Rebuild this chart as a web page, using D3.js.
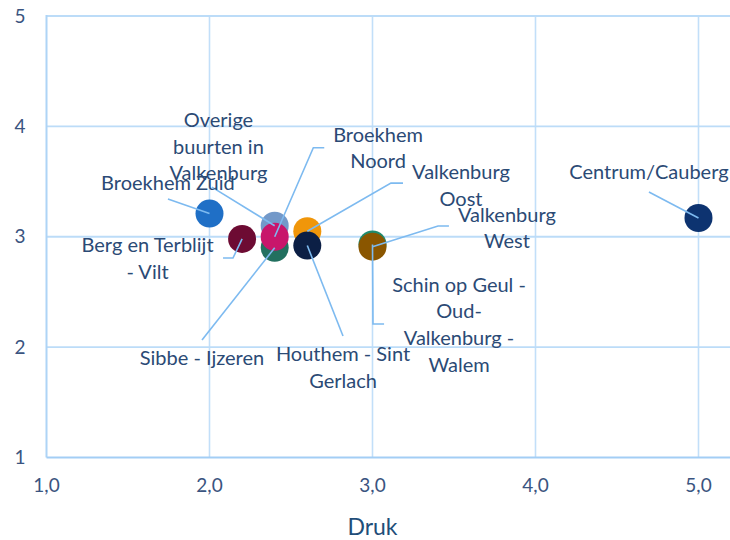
<!DOCTYPE html>
<html>
<head>
<meta charset="utf-8">
<script src="https://cdn.jsdelivr.net/npm/d3@7"></script>
<style>
  body { margin: 0; background: #fff; }
  svg text { font-family: Lato, "Open Sans", sans-serif; }
</style>
</head>
<body>
<script>
// neighbourhoods, x = Druk, y = second score
var names = ["Schin op Geul - Oud-Valkenburg - Walem", "Broekhem Zuid", "Berg en Terblijt - Vilt",
  "Overige buurten in Valkenburg", "Sibbe - Ijzeren", "Broekhem Noord", "Valkenburg Oost",
  "Houthem - Sint Gerlach", "Valkenburg West", "Centrum/Cauberg"];
var druk = [3.0, 2.0, 2.2, 2.4, 2.4, 2.4, 2.6, 2.6, 3.0, 5.0];
var score = [2.93, 3.21, 2.98, 3.1, 2.9, 3.0, 3.05, 2.92, 2.91, 3.17];
var colors = ["#1f8a6c", "#1f6fc6", "#6d0b33", "#7399c9", "#22705f", "#c8166b", "#f0960a",
  "#0c1f45", "#8a5600", "#0d3370"];

// label text lines per point
var labelLines = [
  ["Schin op Geul -", "Oud-", "Valkenburg -", "Walem"],
  ["Broekhem Zuid"],
  ["Berg en Terblijt", "- Vilt"],
  ["Overige", "buurten in", "Valkenburg"],
  ["Sibbe - Ijzeren"],
  ["Broekhem", "Noord"],
  ["Valkenburg", "Oost"],
  ["Houthem - Sint", "Gerlach"],
  ["Valkenburg", "West"],
  ["Centrum/Cauberg"]
];

var xTicks = [1, 2, 3, 4, 5];
var yTicks = [1, 2, 3, 4, 5];

// label placement in data units: text centre x, first baseline y, leader elbows
var labelPos = [
  {x: 3.531, y: 2.502, leader: [[3.071, 2.209], [3.003, 2.209]]},
  {x: 1.745, y: 3.423, leader: [[1.745, 3.341]]},
  {x: 1.620, y: 2.859, leader: [[2.083, 2.807], [2.144, 2.807]]},
  {x: 2.055, y: 3.994, leader: [[2.015, 3.450]]},
  {x: 1.954, y: 1.838, leader: [[1.954, 2.064]]},
  {x: 3.034, y: 3.861, leader: [[2.704, 3.806], [2.637, 3.806]]},
  {x: 3.543, y: 3.520, leader: [[3.187, 3.486], [3.113, 3.486]]},
  {x: 2.819, y: 1.874, leader: [[2.819, 2.101]]},
  {x: 3.825, y: 3.136, leader: [[3.469, 3.097], [3.402, 3.097]]},
  {x: 4.696, y: 3.523, leader: [[4.696, 3.405]]}
];

var width = 730, height = 540;

var svg = d3.select("body").append("svg")
  .attr("width", width)
  .attr("height", height);

var x = d3.scaleLinear().domain([1, 5.2]).range([46.5, 46.5 + 4.2 * 163]);
var y = d3.scaleLinear().domain([1, 5]).range([457.5, 16]);

//grid
svg.append("g").selectAll("line.v")
  .data(xTicks.slice(1))
  .enter().append("line")
  .attr("x1", function(d){ return x(d); })
  .attr("x2", function(d){ return x(d); })
  .attr("y1", y(5)).attr("y2", y(1))
  .attr("stroke", "#c2dff9").attr("stroke-width", 1.6);

svg.append("g").selectAll("line.h")
  .data(yTicks.slice(1))
  .enter().append("line")
  .attr("x1", x(1)).attr("x2", width)
  .attr("y1", function(d){ return y(d); })
  .attr("y2", function(d){ return y(d); })
  .attr("stroke", "#bcdcf8").attr("stroke-width", 1.8);

//axis lines
svg.append("line")
  .attr("x1", x(1)).attr("x2", x(1)).attr("y1", y(5) - 1).attr("y2", y(1))
  .attr("stroke", "#aed4f6").attr("stroke-width", 2);
svg.append("line")
  .attr("x1", x(1)).attr("x2", width).attr("y1", y(1)).attr("y2", y(1))
  .attr("stroke", "#a3cef5").attr("stroke-width", 2);

//tick labels
svg.append("g").selectAll("text")
  .data(yTicks).enter().append("text")
  .attr("x", 20).attr("y", function(d){ return y(d) + 6.5; })
  .attr("text-anchor", "middle")
  .attr("font-size", 19).attr("fill", "#3a5480")
  .text(function(d){ return d; });

svg.append("g").selectAll("text")
  .data(xTicks).enter().append("text")
  .attr("x", function(d){ return x(d); }).attr("y", 492)
  .attr("text-anchor", "middle")
  .attr("font-size", 19).attr("fill", "#3a5480")
  .text(function(d){ return d3.format(".1f")(d).replace(".", ","); });

svg.append("text")
  .attr("x", (x(1) + x(5)) / 2).attr("y", 535)
  .attr("text-anchor", "middle")
  .attr("font-size", 23).attr("fill", "#1f4e79")
  .text("Druk");

//points
svg.append("g").selectAll("circle")
  .data(names).enter().append("circle")
  .attr("cx", function(d, i){ return x(druk[i]); })
  .attr("cy", function(d, i){ return y(score[i]); })
  .attr("r", 14)
  .attr("fill", function(d, i){ return colors[i]; });

//leader lines
var line = d3.line();
svg.append("g").selectAll("path")
  .data(names).enter().append("path")
  .attr("d", function(d, i){
    var pts = labelPos[i].leader.map(function(p){ return [x(p[0]), y(p[1])]; });
    pts.push([x(druk[i]), y(score[i])]);
    return line(pts);
  })
  .attr("fill", "none")
  .attr("stroke", "#7dbaf0").attr("stroke-width", 1.6);

//labels
var labels = svg.append("g").selectAll("text")
  .data(names).enter().append("text")
  .attr("text-anchor", "middle")
  .attr("font-size", 20).attr("fill", "#2b4a75")
  .attr("x", function(d, i){ return x(labelPos[i].x); })
  .attr("y", function(d, i){ return y(labelPos[i].y); });

labels.each(function(d, i){
  var t = d3.select(this);
  labelLines[i].forEach(function(s, j){
    t.append("tspan")
      .attr("x", x(labelPos[i].x))
      .attr("dy", j == 0 ? 0 : 26.7)
      .text(s);
  });
});
</script>
</body>
</html>
